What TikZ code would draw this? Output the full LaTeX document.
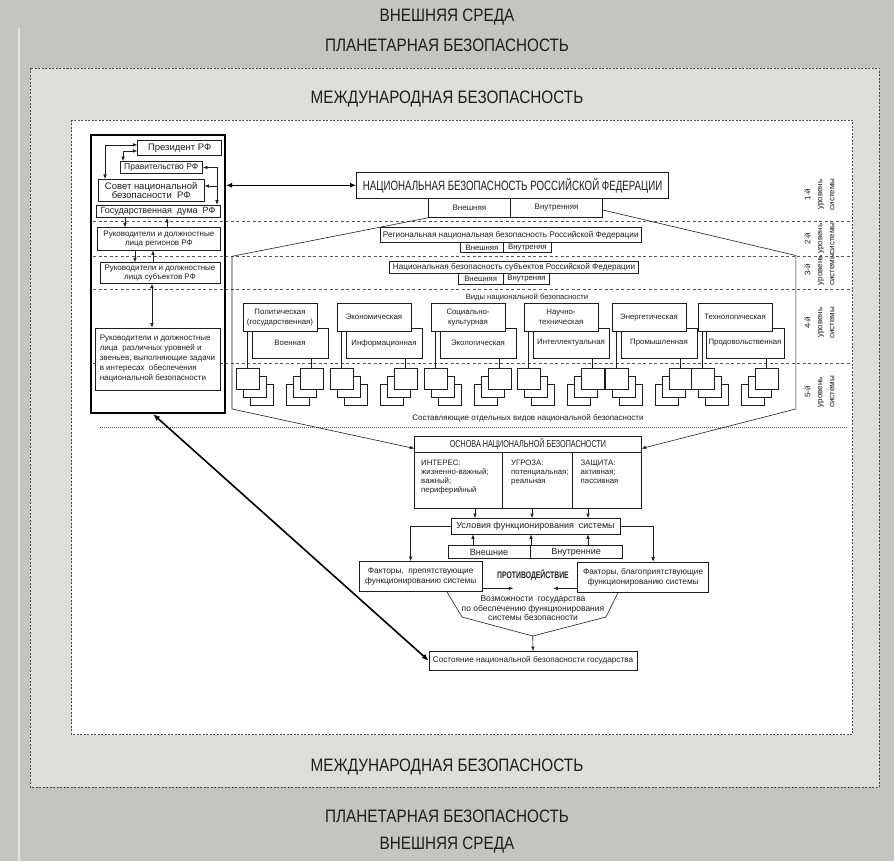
\documentclass[tikz,border=0pt]{standalone}
\usepackage{fontspec}
\setmainfont{Liberation Sans}
\newfontfamily\condfont{Liberation Sans}[FakeStretch=0.72]
\newfontfamily\titlefont{Liberation Sans}[FakeStretch=0.85]
\usetikzlibrary{arrows.meta,positioning}
\definecolor{outergray}{RGB}{196,196,192}
\definecolor{midgray}{RGB}{221,221,218}
\definecolor{inkgray}{RGB}{30,30,30}
\colorlet{dashgray}{inkgray!75}

\begin{document}
\begin{tikzpicture}[x=1pt,y=-1pt,
  every node/.style={text=inkgray},
  box/.style={draw=inkgray,fill=white,line width=.6pt,inner sep=1pt,align=center},
  title/.style={font=\titlefont\fontsize{18}{20}\selectfont},
  small/.style={font=\fontsize{7.8}{9}\selectfont},
  typefont/.style={font=\fontsize{7.8}{10}\selectfont},
  coltext/.style={anchor=north west,align=left,inner sep=0,font=\fontsize{7.8}{9}\selectfont},
  arr/.style={-{Latex[length=4.5pt,width=3.5pt]}},
  darr/.style={{Latex[length=4.5pt,width=3.5pt]}-{Latex[length=4.5pt,width=3.5pt]}},
  link/.style={draw=inkgray,line width=.6pt},
  levelsep/.style={draw=dashgray,line width=.7pt,dash pattern=on 3pt off 2.5pt},
  dashframe/.style={draw=inkgray!80,line width=.5pt,dash pattern=on 2pt off 1.5pt},
  lvl/.style={rotate=90,align=center,font=\fontsize{8}{12}\selectfont},
  sq/.style={draw=inkgray,fill=white,line width=.6pt}
]
\useasboundingbox (0,0) rectangle (894,861);
% background layers
\fill[outergray] (0,0) rectangle (894,861);
\draw[white!55!outergray,line width=1.5pt] (19,28) -- (19,861);
\filldraw[fill=midgray,dashframe] (30,68) rectangle (879,787);
\filldraw[fill=white,dashframe] (71.6,120) rectangle (852.5,734.5);

\node[title] (envtop) at (447,17) {ВНЕШНЯЯ СРЕДА};
\node[title] (plantop) at (447,45) {ПЛАНЕТАРНАЯ БЕЗОПАСНОСТЬ};
\node[title] (inttop) at (447,99) {МЕЖДУНАРОДНАЯ БЕЗОПАСНОСТЬ};
\node[title] (intbot) at (447,767) {МЕЖДУНАРОДНАЯ БЕЗОПАСНОСТЬ};
\node[title] (planbot) at (447,816) {ПЛАНЕТАРНАЯ БЕЗОПАСНОСТЬ};
\node[title] (envbot) at (447,845) {ВНЕШНЯЯ СРЕДА};

% level separators
\foreach \yy in {221.8,256.5,289.5,363}
  \draw[levelsep] (93,\yy) -- (852,\yy);
\draw[draw=dashgray,line width=.8pt,dash pattern=on .8pt off 1.2pt] (100,427) -- (848,427);

\node[lvl] (lev1) at (819.5,194.5) {1-й\\уровень\\системы};
\node[lvl] (lev2) at (819.5,238.6) {2-й\\уровень\\системы};
\node[lvl] (lev3) at (819.5,270) {3-й\\уровень\\системы};
\node[lvl] (lev4) at (819.5,322.7) {4-й\\уровень\\системы};
\node[lvl] (lev5) at (819.5,392) {5-й\\уровень\\системы};

% state bodies
\node[draw=black,line width=2pt,minimum width=134,minimum height=278,inner sep=0] (govpanel) at (158,274) {};
\node[box,minimum width=84,minimum height=14.3,font=\fontsize{9.5}{10}\selectfont] (prez) at (179.7,147.9) {Президент РФ};
\node[box,minimum width=82.5,minimum height=12,font=\fontsize{8.5}{9}\selectfont] (govt) at (161.3,167.5) {Правительство РФ};
\node[box,minimum width=105.7,minimum height=22.2,font=\fontsize{9.5}{9.5}\selectfont] (council) at (151.2,190.4) {Совет национальной\\безопасности \ РФ};
\node[box,minimum width=124,minimum height=12.5,font=\fontsize{9}{9}\selectfont] (duma) at (158,211.3) {Государственная \ дума \ РФ};
\node[box,minimum width=122.3,minimum height=22.3,font=\fontsize{8}{9}\selectfont] (regions) at (158.9,238.9) {Руководители и должностные\\лица регионов РФ};
\node[box,minimum width=120,minimum height=20.6,font=\fontsize{8}{9}\selectfont] (subjects) at (160,273) {Руководители и должностные\\лица субъектов РФ};
\node[box,align=left,minimum width=125,minimum height=62,font=\fontsize{8}{10}\selectfont] (staff) at (157.5,359) {Руководители и должностные\\лица \ различных уровней и\\звеньев, выполняющие задачи\\в интересах \ обеспечения\\национальной безопасности};

\draw[link,darr] (council.north -| 105,0) |- ([yshift=3pt]prez.west);
\draw[link,darr] (govt.north -| 123,0) |- ([yshift=-3pt]prez.west);
\draw[link,darr] (govt.east) -| (duma.north -| 217,0);
\coordinate (bus) at (217,186);
\draw[link,arr] (bus) -- (council.east |- bus);
\draw[link,arr] (duma.south -| 125,0) -- (regions.north -| 125,0);
\draw[link,arr] (regions.north -| 167,0) -- (duma.south -| 167,0);
\draw[link,arr] (regions.south -| 135,0) -- (subjects.north -| 135,0);
\draw[link,arr] (subjects.north -| 153,0) -- (regions.south -| 153,0);
\draw[link,darr] (subjects.south -| 152,0) -- (staff.north -| 152,0);

% national security levels
\node[box,minimum width=312.3,minimum height=26.5,font=\condfont\fontsize{13.5}{14}\selectfont] (nat) at (512.6,185.3) {НАЦИОНАЛЬНАЯ БЕЗОПАСНОСТЬ РОССИЙСКОЙ ФЕДЕРАЦИИ};
\draw[line width=1.3pt,{Latex[length=6pt,width=5pt]}-{Latex[length=6pt,width=5pt]}] (govpanel.east |- nat.west) -- (nat.west);
\node[box,minimum width=82.7,minimum height=19.1,font=\fontsize{8}{9}\selectfont] (ext1a) at (469.4,208) {Внешняя};
\node[box,minimum width=91.9,minimum height=19.1,font=\fontsize{8}{9}\selectfont] (ext1b) at (556.6,208) {Внутренняя};

\node[box,minimum width=261,minimum height=15,font=\fontsize{8.2}{9}\selectfont] (reg) at (510.8,235) {Региональная национальная безопасность Российской Федерации};
\node[box,small,minimum width=42.6,minimum height=10] (rega) at (482,247.5) {Внешняя};
\node[box,small,minimum width=48,minimum height=10] (regb) at (527.3,247.5) {Внутреняя};
\node[box,minimum width=249.3,minimum height=12,font=\fontsize{8.2}{9}\selectfont] (subj) at (514,267) {Национальная безопасность субъектов Российской Федерации};
\node[box,small,minimum width=45.3,minimum height=11] (subja) at (480.7,278.5) {Внешняя};
\node[box,small,minimum width=46.4,minimum height=11] (subjb) at (526.5,278.5) {Внутреняя};

\node[font=\fontsize{7.6}{9}\selectfont] (kinds) at (527,297.5) {Виды национальной безопасности};

% kinds of security
\node[box,typefont,minimum width=76,minimum height=30] (low1) at (290,343) {Военная};
\node[box,typefont,minimum width=74,minimum height=27.5] (top1) at (280,317.25) {Политическая\\(государственная)};
\node[box,typefont,minimum width=76,minimum height=30] (low2) at (384,343) {Информационная};
\node[box,typefont,minimum width=74,minimum height=27.5] (top2) at (374,317.25) {Экономическая};
\node[box,typefont,minimum width=76,minimum height=30] (low3) at (478,343) {Экологическая};
\node[box,typefont,minimum width=74,minimum height=27.5] (top3) at (468,317.25) {Социально-\\культурная};
\node[box,typefont,minimum width=76,minimum height=30] (low4) at (571,343) {Интеллектуальная};
\node[box,typefont,minimum width=74,minimum height=27.5] (top4) at (561,317.25) {Научно-\\техническая};
\node[box,typefont,minimum width=76,minimum height=30] (low5) at (659,343) {Промышленная};
\node[box,typefont,minimum width=74,minimum height=27.5] (top5) at (649,317.25) {Энергетическая};
\node[box,typefont,minimum width=78,minimum height=30] (low6) at (745,343) {Продовольственная};
\node[box,typefont,minimum width=74,minimum height=27.5] (top6) at (735,317.25) {Технологическая};

\foreach \px [count=\i] in {243,337,431,524,612,698}{
  \foreach \k in {2,1}{
    \draw[sq] (\px-7+7*\k,368+8*\k) rectangle ++(23,21);
    \draw[sq] (\px+57-7*\k,368+8*\k) rectangle ++(23,21);
  }
  \node[sq,minimum width=23,minimum height=21,inner sep=0] (sl\i) at (\px+4.5,378.5) {};
  \node[sq,minimum width=23,minimum height=21,inner sep=0] (sr\i) at (\px+68.5,378.5) {};
  \draw[link] (top\i.south -| sl\i.north) -- (sl\i.north);
  \draw[link] (low\i.south -| sr\i.north) -- (sr\i.north);
}
\node[font=\fontsize{8}{9}\selectfont] (parts) at (528,418.5) {Составляющие отдельных видов национальной безопасности};

% basis of national security
\node[box,minimum width=226.6,minimum height=72.4] (basis) at (528,472.2) {};
\node[font=\condfont\fontsize{10}{11}\selectfont] (basistitle) at (528,444.2) {ОСНОВА НАЦИОНАЛЬНОЙ БЕЗОПАСНОСТИ};
\draw[link] (basis.west |- 0,452.5) -- (basis.east |- 0,452.5);
\draw[link] (502,452.5) -- (basis.south -| 502,0);
\draw[link] (572.4,452.5) -- (basis.south -| 572.4,0);
\node[coltext] (interest) at (421,460) {ИНТЕРЕС:\\жизненно-важный;\\важный;\\периферийный};
\node[coltext] (threat) at (511,460) {УГРОЗА:\\потенциальная;\\реальная};
\node[coltext] (defence) at (580.5,460) {ЗАЩИТА:\\активная;\\пассивная};

\coordinate (tl) at (232,256.3);
\coordinate (bl) at (232,409);
\coordinate (tr) at (795.8,255.5);
\coordinate (br) at (795.8,409);
\draw[link,arr] (ext1a.south west) -- (tl) -- (bl) -- (basis.west |- 0,448.5);
\draw[link,arr] ([yshift=-2pt]ext1b.east) -- (tr) -- (br) -- (basis.east |- 0,448.5);

% conditions and factors
\node[box,minimum width=169,minimum height=15.5,font=\fontsize{9}{10}\selectfont] (cond) at (535.5,526.25) {Условия функционирования \ системы};
\foreach \xx in {475,532,588}
  \draw[link,arr] (basis.south -| \xx,0) -- (cond.north -| \xx,0);
\node[box,minimum width=82,minimum height=13,font=\fontsize{9}{10}\selectfont] (ext2a) at (489,552) {Внешние};
\node[box,minimum width=92.2,minimum height=13,font=\fontsize{9}{10}\selectfont] (ext2b) at (576.1,552) {Внутренние};
\foreach \xx in {473,531,588}
  \draw[link,arr] (ext2a.north -| \xx,0) -- (cond.south -| \xx,0);

\node[box,minimum width=123.4,minimum height=30.3,font=\fontsize{8.3}{10}\selectfont] (hinder) at (420.7,576.5) {Факторы, \ препятствующие\\функционированию системы};
\node[box,minimum width=130.8,minimum height=30.4,font=\fontsize{8.3}{10}\selectfont] (favour) at (643.1,577.2) {Факторы, благоприятствующие\\функционированию системы};
\draw[link,arr] (cond.west) -| ([xshift=-10pt]hinder.north);
\draw[link,arr] (cond.east) -| ([xshift=10pt]favour.north);
\node[font=\condfont\bfseries\fontsize{9.5}{10}\selectfont] (counter) at (533,575) {ПРОТИВОДЕЙСТВИЕ};
\coordinate (cl) at (513.3,588.3);
\coordinate (cr) at (553.3,588.3);
\draw[link,arr] (hinder.east |- cl) -- (cl);
\draw[link,arr] (favour.west |- cr) -- (cr);
\node[align=center,font=\fontsize{8.5}{9.5}\selectfont] (means) at (533,608.5) {Возможности \ государства\\по обеспечению функционирования\\системы безопасности};

\node[box,minimum width=208,minimum height=18.7,font=\fontsize{8.2}{9}\selectfont] (state) at (533,660.7) {Состояние национальной безопасности государства};
\coordinate (funnel) at (532.7,636);
\draw[link] (hinder.south -| 447,0) -- (462,617) -- (funnel);
\draw[link] (favour.south -| 618,0) -- (606,617) -- (funnel);
\draw[link,arr] (funnel) -- (state.north);
\draw[line width=1.6pt,{Latex[length=7pt,width=5.5pt]}-{Latex[length=7pt,width=5.5pt]}] ([xshift=-5pt]govpanel.south) -- (state.west);
\end{tikzpicture}
\end{document}
